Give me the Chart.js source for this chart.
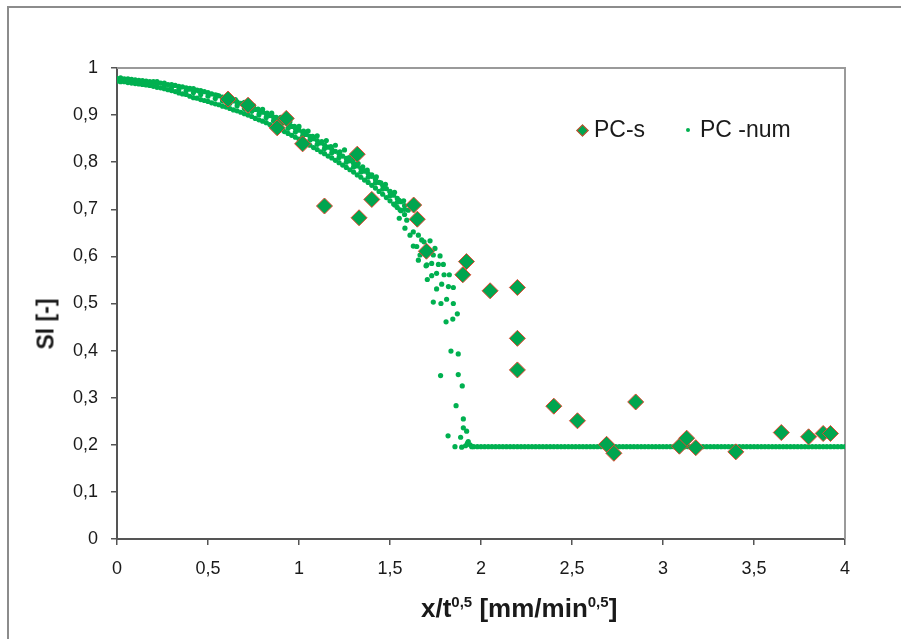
<!DOCTYPE html>
<html><head><meta charset="utf-8">
<script src="https://cdn.jsdelivr.net/npm/chart.js@4.4.1/dist/chart.umd.min.js"></script>
<style>
html,body{margin:0;padding:0;background:#fff;}
#wrap{position:relative;width:901px;height:639px;overflow:hidden;font-family:"Liberation Sans",Arial,sans-serif;color:#1a1a1a;}
#frame{position:absolute;left:7px;top:6px;width:1000px;height:1000px;border:2px solid #8c8c8c;box-sizing:border-box;}
#c{position:absolute;left:0;top:0;}
#ytitle{position:absolute;left:46px;top:324px;transform:translate(-50%,-50%) rotate(-90deg);font-weight:bold;font-size:23px;line-height:23px;white-space:nowrap;}
#xtitle{position:absolute;left:421px;top:595px;font-weight:bold;font-size:26px;line-height:26px;white-space:nowrap;}
#xtitle sup{font-size:15px;vertical-align:10px;line-height:0;}
.legtxt{position:absolute;top:118px;font-size:23px;line-height:23px;white-space:nowrap;}
#legDiamond{position:absolute;left:577.5px;top:125.5px;width:9px;height:9px;background:#00A54F;border:1px solid #E5452F;box-sizing:border-box;transform:rotate(45deg);}
#legDot{position:absolute;left:686px;top:128px;width:4px;height:4px;border-radius:50%;background:#00B050;}
</style>
</head><body>
<div id="wrap">
  <div id="frame"></div>
  <canvas id="c" width="901" height="639"></canvas>
  <div id="ytitle">Sl [-]</div>
  <div id="xtitle">x/t<sup>0,5</sup> [mm/min<sup>0,5</sup>]</div>
  <div id="legDiamond"></div>
  <div class="legtxt" style="left:594px">PC-s</div>
  <div id="legDot"></div>
  <div class="legtxt" style="left:700px">PC -num</div>
</div>
<script>
// ---- PC-s (measured) ----
const pcsX = [0.61,0.72,0.93,0.88,1.02,1.14,1.32,1.33,1.40,1.63,1.65,1.70,1.92,1.90,2.05,2.20,2.20,2.20,2.40,2.53,2.85,2.69,2.73,3.09,3.13,3.18,3.40,3.65,3.80,3.88,3.92];
const pcsY = [0.934,0.921,0.893,0.873,0.839,0.707,0.817,0.682,0.721,0.709,0.679,0.611,0.589,0.561,0.527,0.534,0.426,0.359,0.282,0.251,0.291,0.201,0.182,0.197,0.214,0.194,0.185,0.226,0.217,0.224,0.224];

// ---- PC -num (numerical) : dense band, upper dotted rows, drop, plateau ----
const bandX = [0,0.04,0.08,0.12,0.16,0.20,0.24,0.28,0.32,0.36,0.40,0.44,0.48,0.52,0.56,0.60,0.64,0.68,0.72,0.76,0.80,0.84,0.88,0.92,0.96,1.00,1.04,1.08,1.12,1.16,1.20,1.24,1.28,1.32,1.36,1.40,1.44,1.48,1.52,1.56];
const bandLowY = [0.972,0.971,0.968,0.966,0.964,0.961,0.958,0.954,0.950,0.945,0.940,0.936,0.931,0.926,0.922,0.917,0.911,0.906,0.900,0.893,0.887,0.880,0.873,0.865,0.857,0.849,0.840,0.831,0.822,0.813,0.804,0.794,0.784,0.773,0.762,0.751,0.738,0.725,0.711,0.697];
const bandHighY = [0.978,0.977,0.976,0.974,0.972,0.971,0.968,0.965,0.963,0.960,0.957,0.953,0.950,0.945,0.941,0.936,0.930,0.925,0.919,0.912,0.906,0.899,0.892,0.884,0.876,0.868,0.859,0.850,0.841,0.832,0.823,0.813,0.803,0.792,0.781,0.770,0.757,0.744,0.730,0.716];
const bandMidX = [0.02,0.06,0.10,0.14,0.18,0.22,0.26,0.30,0.34,0.38,0.42,0.46,0.50,0.54,0.58,0.62,0.66,0.70,0.74,0.78,0.82,0.86,0.90,0.94,0.98,1.02,1.06,1.10,1.14,1.18,1.22,1.26,1.30,1.34,1.38,1.42,1.46,1.50,1.54,1.58];
const bandMidY = [0.975,0.973,0.971,0.969,0.967,0.965,0.962,0.959,0.955,0.952,0.948,0.944,0.940,0.935,0.930,0.925,0.920,0.914,0.908,0.901,0.895,0.888,0.880,0.872,0.864,0.856,0.847,0.838,0.829,0.820,0.810,0.800,0.790,0.779,0.768,0.756,0.743,0.729,0.715,0.700];
const bandMidLowY = [0.971,0.969,0.967,0.965,0.963,0.959,0.956,0.952,0.947,0.944,0.937,0.933,0.929,0.924,0.919,0.914,0.909,0.903,0.897,0.890,0.884,0.877,0.869,0.861,0.853,0.845,0.836,0.827,0.818,0.809,0.799,0.789,0.779,0.768,0.757,0.745,0.732,0.718,0.704,0.689];
const bandMidHighY = [0.979,0.977,0.975,0.973,0.971,0.971,0.968,0.965,0.961,0.958,0.956,0.952,0.948,0.943,0.938,0.933,0.928,0.922,0.916,0.909,0.903,0.896,0.888,0.880,0.872,0.864,0.855,0.846,0.837,0.828,0.818,0.808,0.798,0.787,0.776,0.764,0.751,0.737,0.723,0.708];
const upper1X = [0.40,0.45,0.50,0.55,0.60,0.65,0.70,0.75,0.80,0.85,0.90,0.95,1.00,1.05,1.10,1.15,1.20,1.25,1.30,1.35,1.40,1.45,1.50,1.55,1.60];
const upper1Y = [0.955,0.951,0.946,0.942,0.938,0.933,0.927,0.920,0.912,0.904,0.895,0.886,0.876,0.866,0.856,0.846,0.836,0.826,0.808,0.790,0.773,0.756,0.738,0.719,0.698];
const upper2X = [0.725,0.775,0.825,0.875,0.925,0.975,1.025,1.075,1.125,1.175,1.225,1.275,1.325,1.375,1.425,1.475,1.525,1.575];
const upper2Y = [0.921,0.913,0.904,0.895,0.886,0.876,0.866,0.855,0.844,0.833,0.822,0.810,0.797,0.783,0.769,0.753,0.736,0.718];
const dropX = [1.527,1.555,1.551,1.592,1.582,1.628,1.656,1.610,1.674,1.656,1.702,1.628,1.647,1.687,1.720,1.747,1.665,1.738,1.775,1.698,1.729,1.766,1.793,1.756,1.729,1.705,1.797,1.826,1.784,1.821,1.848,1.756,1.738,1.780,1.811,1.848,1.870,1.845,1.808,1.835,1.875,1.778,1.875,1.897,1.863,1.903,1.903,1.921,1.819,1.888,1.857,1.930,1.894,1.940,1.949,1.915,1.925];
const dropY = [0.709,0.699,0.681,0.677,0.660,0.652,0.645,0.645,0.635,0.592,0.582,0.622,0.621,0.631,0.633,0.617,0.603,0.603,0.601,0.580,0.585,0.583,0.583,0.564,0.559,0.551,0.561,0.561,0.541,0.536,0.534,0.531,0.503,0.500,0.509,0.500,0.478,0.467,0.461,0.399,0.393,0.347,0.349,0.325,0.283,0.255,0.236,0.229,0.219,0.216,0.196,0.207,0.195,0.200,0.196,0.198,0.203];
const tailX = [1.96,1.98,2.00,2.02,2.04,2.06,2.08,2.10,2.12,2.14,2.16,2.18,2.20,2.22,2.24,2.26,2.28,2.30,2.32,2.34,2.36,2.38,2.40,2.42,2.44,2.46,2.48,2.50,2.52,2.54,2.56,2.58,2.60,2.62,2.64,2.66,2.68,2.70,2.72,2.74,2.76,2.78,2.80,2.82,2.84,2.86,2.88,2.90,2.92,2.94,2.96,2.98,3.00,3.02,3.04,3.06,3.08,3.10,3.12,3.14,3.16,3.18,3.20,3.22,3.24,3.26,3.28,3.30,3.32,3.34,3.36,3.38,3.40,3.42,3.44,3.46,3.48,3.50,3.52,3.54,3.56,3.58,3.60,3.62,3.64,3.66,3.68,3.70,3.72,3.74,3.76,3.78,3.80,3.82,3.84,3.86,3.88,3.90,3.92,3.94,3.96,3.98,4.00];
const tailLevel = 0.196;

// ---- axis ticks ----
const xTickStep = 0.5;
const yTickStep = 0.1;

const zip = (xs, ys) => xs.map((x, i) => ({x: x, y: ys[i]}));
const pcsPoints = zip(pcsX, pcsY);
const numPoints = [].concat(
  zip(bandX, bandLowY), zip(bandX, bandHighY), zip(bandMidX, bandMidY),
  zip(bandMidX, bandMidLowY), zip(bandMidX, bandMidHighY),
  zip(upper1X, upper1Y), zip(upper2X, upper2Y), zip(dropX, dropY),
  tailX.map(x => ({x: x, y: tailLevel}))
);

const fmt = v => String(Math.round(v * 10) / 10).replace('.', ',');
const tickFont = {family: '"Liberation Sans", Arial, sans-serif', size: 18};

const framePlugin = {
  id: 'frame',
  beforeDatasetsDraw(chart) {
    const {ctx, chartArea: {left, right, top, bottom}} = chart;
    ctx.save();
    ctx.strokeStyle = '#9a9a9a';
    ctx.lineWidth = 2;
    ctx.beginPath();
    ctx.moveTo(left, top);
    ctx.lineTo(right, top);
    ctx.lineTo(right, bottom);
    ctx.stroke();
    ctx.restore();
  }
};

new Chart(document.getElementById('c'), {
  type: 'scatter',
  data: {
    datasets: [
      {label: 'PC-s', data: pcsPoints, pointStyle: 'rectRot', pointRadius: 8,
       backgroundColor: '#00A54F', borderColor: '#E5452F', borderWidth: 1, order: 0},
      {label: 'PC -num', data: numPoints, pointStyle: 'circle', pointRadius: 2.6,
       backgroundColor: '#00B050', borderColor: '#00B050', borderWidth: 0, order: 1}
    ]
  },
  options: {
    responsive: false,
    devicePixelRatio: 1,
    animation: false,
    layout: {padding: {top: 68, right: 56, left: 0, bottom: 0}},
    plugins: {legend: {display: false}, tooltip: {enabled: false}},
    scales: {
      x: {
        type: 'linear', min: 0, max: 4,
        afterFit(s) { s.height = 100; },
        ticks: {stepSize: xTickStep, padding: 13, color: '#1a1a1a', font: tickFont, callback: fmt, maxRotation: 0, autoSkip: false},
        grid: {drawOnChartArea: false, drawTicks: true, tickLength: 6, color: '#555', lineWidth: 1.5},
        border: {color: '#555', width: 2}
      },
      y: {
        type: 'linear', min: 0, max: 1,
        afterFit(s) { s.width = 117; },
        ticks: {stepSize: yTickStep, padding: 13, color: '#1a1a1a', font: tickFont, callback: fmt, autoSkip: false},
        grid: {drawOnChartArea: false, drawTicks: true, tickLength: 6, color: '#555', lineWidth: 1.5},
        border: {color: '#555', width: 2}
      }
    }
  },
  plugins: [framePlugin]
});
</script>
</body></html>
